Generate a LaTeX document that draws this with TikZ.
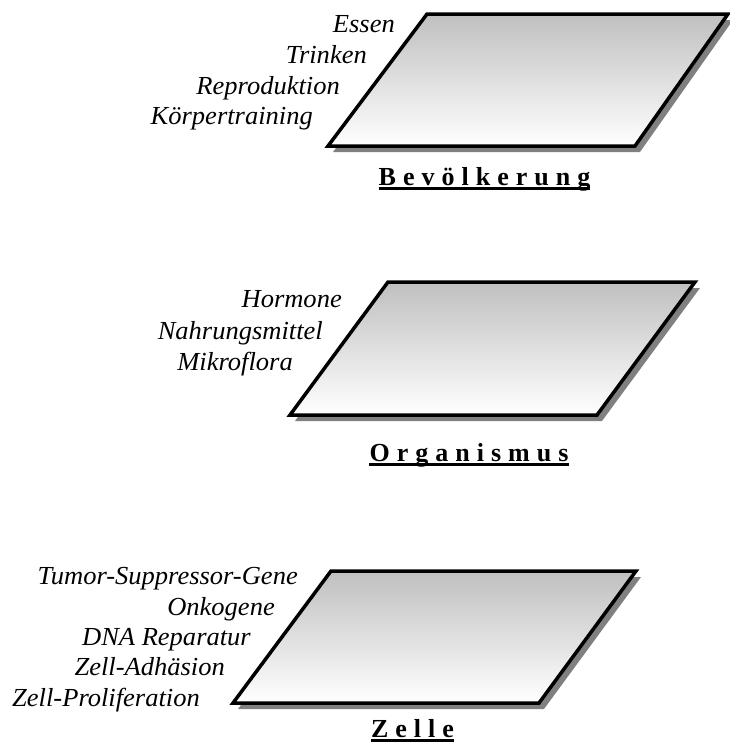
\documentclass[tikz,border=0pt]{standalone}
\usepackage{fontspec}
\setmainfont{Liberation Serif}
\newfontfamily\labfont[FakeStretch=1.02]{Liberation Serif}
\newcommand\lsp{\hspace{7pt}}
\tikzset{
  lab/.style={font=\labfont\itshape\fontsize{26}{30}\selectfont, inner sep=0pt, anchor=base east},
  ttl/.style={font=\bfseries\fontsize{26}{30}\selectfont, inner sep=0pt, anchor=base},
  plate/.style={top color=gray!50, bottom color=white, draw=black, line width=3.5pt, line join=miter},
  shadowfill/.style={fill=gray},
  uline/.style={line width=2.2pt}
}
\begin{document}
\begin{tikzpicture}[x=1pt,y=-1pt]
\useasboundingbox (0,0) rectangle (730,742);
% plate 1
\coordinate (a1) at (427,14); \coordinate (b1) at (728,14);
\coordinate (c1) at (635,146); \coordinate (d1) at (328,146);
\fill[shadowfill] ([shift={(5,6)}]a1) -- ([shift={(5,6)}]b1) -- ([shift={(5,6)}]c1) -- ([shift={(5,6)}]d1) -- cycle;
\shadedraw[plate] (a1) -- (b1) -- (c1) -- (d1) -- cycle;
% plate 2
\coordinate (a2) at (388,282); \coordinate (b2) at (695,282);
\coordinate (c2) at (597,415); \coordinate (d2) at (290,415);
\fill[shadowfill] ([shift={(5,6)}]a2) -- ([shift={(5,6)}]b2) -- ([shift={(5,6)}]c2) -- ([shift={(5,6)}]d2) -- cycle;
\shadedraw[plate] (a2) -- (b2) -- (c2) -- (d2) -- cycle;
% plate 3
\coordinate (a3) at (331,571); \coordinate (b3) at (636,571);
\coordinate (c3) at (539,703); \coordinate (d3) at (233,703);
\fill[shadowfill] ([shift={(5,6)}]a3) -- ([shift={(5,6)}]b3) -- ([shift={(5,6)}]c3) -- ([shift={(5,6)}]d3) -- cycle;
\shadedraw[plate] (a3) -- (b3) -- (c3) -- (d3) -- cycle;
% labels plate 1
\node[lab] (l11) at (395,32) {Essen};
\node[lab] (l12) at (367,63) {Trinken};
\node[lab] (l13) at (340,94) {Reproduktion};
\node[lab] (l14) at (313,124) {Körpertraining};
% labels plate 2
\node[lab] (l21) at (342,307) {Hormone};
\node[lab] (l22) at (323,339) {Nahrungsmittel};
\node[lab] (l23) at (293,370) {Mikroflora};
% labels plate 3
\node[lab] (l31) at (298,584) {Tumor-Suppressor-Gene};
\node[lab] (l32) at (275,615) {Onkogene};
\node[lab] (l33) at (251,645) {DNA Reparatur};
\node[lab] (l34) at (225,675) {Zell-Adhäsion};
\node[lab] (l35) at (200,706) {Zell-Proliferation};
% titles
\node[ttl] (t1) at (484.5,185) {B\lsp e\lsp v\lsp ö\lsp l\lsp k\lsp e\lsp r\lsp u\lsp n\lsp g};
\draw[uline] ([yshift=-3.5pt]t1.base west) -- ([yshift=-3.5pt]t1.base east);
\node[ttl] (t2) at (469,461) {O\lsp r\lsp g\lsp a\lsp n\lsp i\lsp s\lsp m\lsp u\lsp s};
\draw[uline] ([yshift=-3.5pt]t2.base west) -- ([yshift=-3.5pt]t2.base east);
\node[ttl] (t3) at (412.5,737) {Z\lsp e\lsp l\lsp l\lsp e};
\draw[uline] ([yshift=-3.5pt]t3.base west) -- ([yshift=-3.5pt]t3.base east);
\end{tikzpicture}
\end{document}
